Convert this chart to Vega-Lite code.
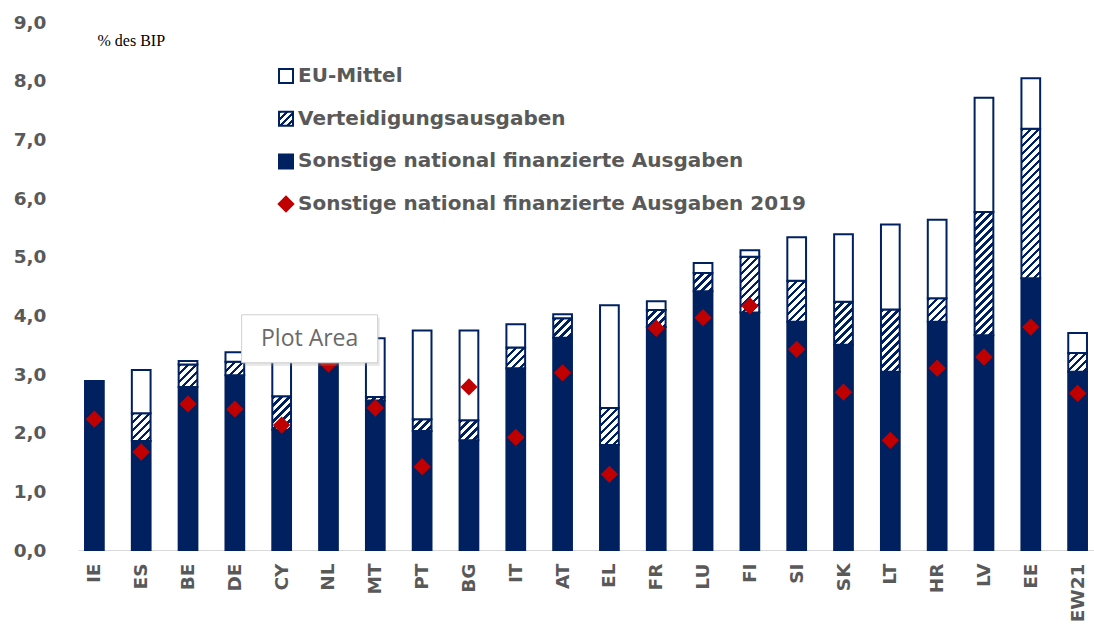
{
  "$schema": "https://vega.github.io/schema/vega-lite/v6.json",
  "autosize": {"type": "none"},
  "width": 1016,
  "height": 528,
  "padding": {"left": 78, "top": 22, "right": 0, "bottom": 84},
  "background": "#ffffff",
  "params": [
    {"name": "hs", "value": [
      {"offset": 0, "color": "#002060"}, {"offset": 0.0205, "color": "#002060"}, {"offset": 0.0205, "color": "#ffffff"}, {"offset": 0.0455, "color": "#ffffff"},
      {"offset": 0.0455, "color": "#002060"}, {"offset": 0.0660, "color": "#002060"}, {"offset": 0.0660, "color": "#ffffff"}, {"offset": 0.0909, "color": "#ffffff"},
      {"offset": 0.0909, "color": "#002060"}, {"offset": 0.1114, "color": "#002060"}, {"offset": 0.1114, "color": "#ffffff"}, {"offset": 0.1364, "color": "#ffffff"},
      {"offset": 0.1364, "color": "#002060"}, {"offset": 0.1569, "color": "#002060"}, {"offset": 0.1569, "color": "#ffffff"}, {"offset": 0.1818, "color": "#ffffff"},
      {"offset": 0.1818, "color": "#002060"}, {"offset": 0.2023, "color": "#002060"}, {"offset": 0.2023, "color": "#ffffff"}, {"offset": 0.2273, "color": "#ffffff"},
      {"offset": 0.2273, "color": "#002060"}, {"offset": 0.2478, "color": "#002060"}, {"offset": 0.2478, "color": "#ffffff"}, {"offset": 0.2727, "color": "#ffffff"},
      {"offset": 0.2727, "color": "#002060"}, {"offset": 0.2932, "color": "#002060"}, {"offset": 0.2932, "color": "#ffffff"}, {"offset": 0.3182, "color": "#ffffff"},
      {"offset": 0.3182, "color": "#002060"}, {"offset": 0.3387, "color": "#002060"}, {"offset": 0.3387, "color": "#ffffff"}, {"offset": 0.3636, "color": "#ffffff"},
      {"offset": 0.3636, "color": "#002060"}, {"offset": 0.3841, "color": "#002060"}, {"offset": 0.3841, "color": "#ffffff"}, {"offset": 0.4091, "color": "#ffffff"},
      {"offset": 0.4091, "color": "#002060"}, {"offset": 0.4296, "color": "#002060"}, {"offset": 0.4296, "color": "#ffffff"}, {"offset": 0.4545, "color": "#ffffff"},
      {"offset": 0.4545, "color": "#002060"}, {"offset": 0.4750, "color": "#002060"}, {"offset": 0.4750, "color": "#ffffff"}, {"offset": 0.5, "color": "#ffffff"},
      {"offset": 0.5, "color": "#002060"}, {"offset": 0.5205, "color": "#002060"}, {"offset": 0.5205, "color": "#ffffff"}, {"offset": 0.5455, "color": "#ffffff"},
      {"offset": 0.5455, "color": "#002060"}, {"offset": 0.5660, "color": "#002060"}, {"offset": 0.5660, "color": "#ffffff"}, {"offset": 0.5909, "color": "#ffffff"},
      {"offset": 0.5909, "color": "#002060"}, {"offset": 0.6114, "color": "#002060"}, {"offset": 0.6114, "color": "#ffffff"}, {"offset": 0.6364, "color": "#ffffff"},
      {"offset": 0.6364, "color": "#002060"}, {"offset": 0.6569, "color": "#002060"}, {"offset": 0.6569, "color": "#ffffff"}, {"offset": 0.6818, "color": "#ffffff"},
      {"offset": 0.6818, "color": "#002060"}, {"offset": 0.7023, "color": "#002060"}, {"offset": 0.7023, "color": "#ffffff"}, {"offset": 0.7273, "color": "#ffffff"},
      {"offset": 0.7273, "color": "#002060"}, {"offset": 0.7478, "color": "#002060"}, {"offset": 0.7478, "color": "#ffffff"}, {"offset": 0.7727, "color": "#ffffff"},
      {"offset": 0.7727, "color": "#002060"}, {"offset": 0.7932, "color": "#002060"}, {"offset": 0.7932, "color": "#ffffff"}, {"offset": 0.8182, "color": "#ffffff"},
      {"offset": 0.8182, "color": "#002060"}, {"offset": 0.8387, "color": "#002060"}, {"offset": 0.8387, "color": "#ffffff"}, {"offset": 0.8636, "color": "#ffffff"},
      {"offset": 0.8636, "color": "#002060"}, {"offset": 0.8841, "color": "#002060"}, {"offset": 0.8841, "color": "#ffffff"}, {"offset": 0.9091, "color": "#ffffff"},
      {"offset": 0.9091, "color": "#002060"}, {"offset": 0.9296, "color": "#002060"}, {"offset": 0.9296, "color": "#ffffff"}, {"offset": 0.9545, "color": "#ffffff"},
      {"offset": 0.9545, "color": "#002060"}, {"offset": 0.9750, "color": "#002060"}, {"offset": 0.9750, "color": "#ffffff"}, {"offset": 1, "color": "#ffffff"}
    ]}
  ],
  "datasets": {
    "bars": [
      {"land": "IE", "k": "Sonstige national finanzierte Ausgaben", "von": 0, "bis": 2.88},
      {"land": "ES", "k": "Sonstige national finanzierte Ausgaben", "von": 0, "bis": 1.86},
      {"land": "ES", "k": "Verteidigungsausgaben", "von": 1.86, "bis": 2.33},
      {"land": "ES", "k": "EU-Mittel", "von": 2.33, "bis": 3.07},
      {"land": "BE", "k": "Sonstige national finanzierte Ausgaben", "von": 0, "bis": 2.78},
      {"land": "BE", "k": "Verteidigungsausgaben", "von": 2.78, "bis": 3.16},
      {"land": "BE", "k": "EU-Mittel", "von": 3.16, "bis": 3.22},
      {"land": "DE", "k": "Sonstige national finanzierte Ausgaben", "von": 0, "bis": 2.98},
      {"land": "DE", "k": "Verteidigungsausgaben", "von": 2.98, "bis": 3.21},
      {"land": "DE", "k": "EU-Mittel", "von": 3.21, "bis": 3.37},
      {"land": "CY", "k": "Sonstige national finanzierte Ausgaben", "von": 0, "bis": 2.05},
      {"land": "CY", "k": "Verteidigungsausgaben", "von": 2.05, "bis": 2.62},
      {"land": "CY", "k": "EU-Mittel", "von": 2.62, "bis": 3.35},
      {"land": "NL", "k": "Sonstige national finanzierte Ausgaben", "von": 0, "bis": 3.25},
      {"land": "MT", "k": "Sonstige national finanzierte Ausgaben", "von": 0, "bis": 2.55},
      {"land": "MT", "k": "Verteidigungsausgaben", "von": 2.55, "bis": 2.61},
      {"land": "MT", "k": "EU-Mittel", "von": 2.61, "bis": 3.61},
      {"land": "PT", "k": "Sonstige national finanzierte Ausgaben", "von": 0, "bis": 2.03},
      {"land": "PT", "k": "Verteidigungsausgaben", "von": 2.03, "bis": 2.23},
      {"land": "PT", "k": "EU-Mittel", "von": 2.23, "bis": 3.74},
      {"land": "BG", "k": "Sonstige national finanzierte Ausgaben", "von": 0, "bis": 1.87},
      {"land": "BG", "k": "Verteidigungsausgaben", "von": 1.87, "bis": 2.21},
      {"land": "BG", "k": "EU-Mittel", "von": 2.21, "bis": 3.74},
      {"land": "IT", "k": "Sonstige national finanzierte Ausgaben", "von": 0, "bis": 3.10},
      {"land": "IT", "k": "Verteidigungsausgaben", "von": 3.10, "bis": 3.45},
      {"land": "IT", "k": "EU-Mittel", "von": 3.45, "bis": 3.85},
      {"land": "AT", "k": "Sonstige national finanzierte Ausgaben", "von": 0, "bis": 3.62},
      {"land": "AT", "k": "Verteidigungsausgaben", "von": 3.62, "bis": 3.95},
      {"land": "AT", "k": "EU-Mittel", "von": 3.95, "bis": 4.02},
      {"land": "EL", "k": "Sonstige national finanzierte Ausgaben", "von": 0, "bis": 1.79},
      {"land": "EL", "k": "Verteidigungsausgaben", "von": 1.79, "bis": 2.42},
      {"land": "EL", "k": "EU-Mittel", "von": 2.42, "bis": 4.17},
      {"land": "FR", "k": "Sonstige national finanzierte Ausgaben", "von": 0, "bis": 3.80},
      {"land": "FR", "k": "Verteidigungsausgaben", "von": 3.80, "bis": 4.09},
      {"land": "FR", "k": "EU-Mittel", "von": 4.09, "bis": 4.24},
      {"land": "LU", "k": "Sonstige national finanzierte Ausgaben", "von": 0, "bis": 4.41},
      {"land": "LU", "k": "Verteidigungsausgaben", "von": 4.41, "bis": 4.72},
      {"land": "LU", "k": "EU-Mittel", "von": 4.72, "bis": 4.89},
      {"land": "FI", "k": "Sonstige national finanzierte Ausgaben", "von": 0, "bis": 4.05},
      {"land": "FI", "k": "Verteidigungsausgaben", "von": 4.05, "bis": 5.00},
      {"land": "FI", "k": "EU-Mittel", "von": 5.00, "bis": 5.11},
      {"land": "SI", "k": "Sonstige national finanzierte Ausgaben", "von": 0, "bis": 3.89},
      {"land": "SI", "k": "Verteidigungsausgaben", "von": 3.89, "bis": 4.59},
      {"land": "SI", "k": "EU-Mittel", "von": 4.59, "bis": 5.33},
      {"land": "SK", "k": "Sonstige national finanzierte Ausgaben", "von": 0, "bis": 3.50},
      {"land": "SK", "k": "Verteidigungsausgaben", "von": 3.50, "bis": 4.23},
      {"land": "SK", "k": "EU-Mittel", "von": 4.23, "bis": 5.38},
      {"land": "LT", "k": "Sonstige national finanzierte Ausgaben", "von": 0, "bis": 3.04},
      {"land": "LT", "k": "Verteidigungsausgaben", "von": 3.04, "bis": 4.10},
      {"land": "LT", "k": "EU-Mittel", "von": 4.10, "bis": 5.55},
      {"land": "HR", "k": "Sonstige national finanzierte Ausgaben", "von": 0, "bis": 3.89},
      {"land": "HR", "k": "Verteidigungsausgaben", "von": 3.89, "bis": 4.29},
      {"land": "HR", "k": "EU-Mittel", "von": 4.29, "bis": 5.63},
      {"land": "LV", "k": "Sonstige national finanzierte Ausgaben", "von": 0, "bis": 3.66},
      {"land": "LV", "k": "Verteidigungsausgaben", "von": 3.66, "bis": 5.76},
      {"land": "LV", "k": "EU-Mittel", "von": 5.76, "bis": 7.71},
      {"land": "EE", "k": "Sonstige national finanzierte Ausgaben", "von": 0, "bis": 4.63},
      {"land": "EE", "k": "Verteidigungsausgaben", "von": 4.63, "bis": 7.18},
      {"land": "EE", "k": "EU-Mittel", "von": 7.18, "bis": 8.04},
      {"land": "EW21", "k": "Sonstige national finanzierte Ausgaben", "von": 0, "bis": 3.04},
      {"land": "EW21", "k": "Verteidigungsausgaben", "von": 3.04, "bis": 3.36},
      {"land": "EW21", "k": "EU-Mittel", "von": 3.36, "bis": 3.70}
    ],
    "punkte": [
      {"land": "IE", "v": 2.23}, {"land": "ES", "v": 1.67}, {"land": "BE", "v": 2.49},
      {"land": "DE", "v": 2.40}, {"land": "CY", "v": 2.13}, {"land": "NL", "v": 3.17},
      {"land": "MT", "v": 2.42}, {"land": "PT", "v": 1.42}, {"land": "BG", "v": 2.78},
      {"land": "IT", "v": 1.92}, {"land": "AT", "v": 3.02}, {"land": "EL", "v": 1.29},
      {"land": "FR", "v": 3.78}, {"land": "LU", "v": 3.96}, {"land": "FI", "v": 4.16},
      {"land": "SI", "v": 3.42}, {"land": "SK", "v": 2.69}, {"land": "LT", "v": 1.87},
      {"land": "HR", "v": 3.10}, {"land": "LV", "v": 3.29}, {"land": "EE", "v": 3.80},
      {"land": "EW21", "v": 2.67}
    ],
    "hinweis": [
      {"land": "CY", "y": 3.6, "label": "Plot Area"}
    ]
  },
  "encoding": {
    "x": {
      "field": "land", "type": "nominal",
      "sort": ["IE","ES","BE","DE","CY","NL","MT","PT","BG","IT","AT","EL","FR","LU","FI","SI","SK","LT","HR","LV","EE","EW21"],
      "scale": {"paddingInner": 0.6, "paddingOuter": 0.15},
      "axis": {
        "title": null, "labelAngle": -90, "labelFont": "DejaVu Sans", "labelFontSize": 18.5,
        "labelFontWeight": "bold", "labelColor": "#595959", "ticks": false,
        "domainColor": "#d9d9d9", "domainWidth": 1.2, "labelPadding": 13, "grid": false
      }
    }
  },
  "layer": [
    {
      "data": {"name": "bars"},
      "mark": {"type": "bar", "stroke": "#002060", "strokeWidth": 2},
      "encoding": {
        "y": {
          "field": "bis", "type": "quantitative",
          "scale": {"domain": [0, 9], "nice": false, "zero": true},
          "axis": {
            "values": [0,1,2,3,4,5,6,7,8,9],
            "labelExpr": "replace(format(datum.value, '.1f'), '.', ',')",
            "labelFont": "DejaVu Sans", "labelFontSize": 18.5, "labelFontWeight": "bold",
            "labelColor": "#595959", "domain": false, "ticks": false, "grid": false,
            "labelPadding": 32,
            "title": "% des BIP", "titleAngle": 0, "titleAlign": "left", "titleBaseline": "middle",
            "titleX": 19, "titleY": 18, "titleFont": "Liberation Serif", "titleFontSize": 16,
            "titleFontWeight": "normal", "titleColor": "#000000"
          }
        },
        "y2": {"field": "von"},
        "fill": {
          "field": "k", "type": "nominal",
          "scale": {
            "domain": ["EU-Mittel", "Verteidigungsausgaben", "Sonstige national finanzierte Ausgaben"],
            "range": ["#ffffff", {"expr": "{gradient:'linear',x1:0,y1:0,x2:5.5,y2:5.5,stops:hs}"}, "#002060"]
          },
          "condition": {
            "test": "datum.k === 'Verteidigungsausgaben'",
            "value": {"expr": "{gradient:'linear',x1:0,y1:0,x2:176*bandwidth('x')/(pow(bandwidth('x'),2)+pow(scale('y',datum.von)-scale('y',datum.bis),2)),y2:176*(scale('y',datum.von)-scale('y',datum.bis))/(pow(bandwidth('x'),2)+pow(scale('y',datum.von)-scale('y',datum.bis),2)),stops:hs}"}
          },
          "legend": {
            "title": null, "orient": "none", "legendX": 198, "legendY": 44,
            "labelFont": "DejaVu Sans", "labelFontSize": 20, "labelFontWeight": "bold",
            "labelColor": "#595959", "rowPadding": 20.7, "labelOffset": 2, "symbolSize": 196,
            "symbolStrokeWidth": 2, "symbolStrokeColor": "#002060", "labelLimit": 700, "symbolType": "square"
          }
        }
      }
    },
    {
      "data": {"name": "punkte"},
      "mark": {"type": "point", "filled": true, "size": 300, "opacity": 1, "fill": "#c00000", "strokeWidth": 0},
      "encoding": {
        "y": {"field": "v", "type": "quantitative"},
        "shape": {
          "datum": "Sonstige national finanzierte Ausgaben 2019", "type": "nominal",
          "scale": {"domain": ["Sonstige national finanzierte Ausgaben 2019"], "range": ["diamond"]},
          "legend": {
            "title": null, "orient": "none", "legendX": 198, "legendY": 172,
            "labelFont": "DejaVu Sans", "labelFontSize": 20, "labelFontWeight": "bold",
            "labelColor": "#595959", "labelOffset": 2, "symbolSize": 300,
            "symbolFillColor": "#c00000", "symbolStrokeWidth": 0, "symbolStrokeColor": "transparent",
            "symbolOpacity": 1, "labelLimit": 700
          }
        }
      }
    },
    {
      "data": {"name": "hinweis"},
      "mark": {"type": "point", "shape": "M-1,-0.353L1,-0.353L1,0.353L-1,0.353Z", "size": 18496, "filled": true, "fill": "#9a9a9a", "opacity": 0.25, "xOffset": 30, "yOffset": 3},
      "encoding": {
        "y": {"field": "y", "type": "quantitative"}
      }
    },
    {
      "data": {"name": "hinweis"},
      "mark": {"type": "point", "shape": "M-1,-0.353L1,-0.353L1,0.353L-1,0.353Z", "size": 18496, "filled": true, "fill": "#ffffff", "stroke": "#cfcfcf", "strokeWidth": 1, "opacity": 1, "xOffset": 28},
      "encoding": {
        "y": {"field": "y", "type": "quantitative"}
      }
    },
    {
      "data": {"name": "hinweis"},
      "mark": {"type": "text", "font": "Open Sans", "fontSize": 23, "color": "#6a6a6a", "xOffset": 28, "align": "center", "baseline": "middle"},
      "encoding": {
        "y": {"field": "y", "type": "quantitative"},
        "text": {"field": "label"}
      }
    }
  ],
  "config": {
    "view": {"stroke": null},
    "axis": {"labelFont": "DejaVu Sans"}
  }
}
